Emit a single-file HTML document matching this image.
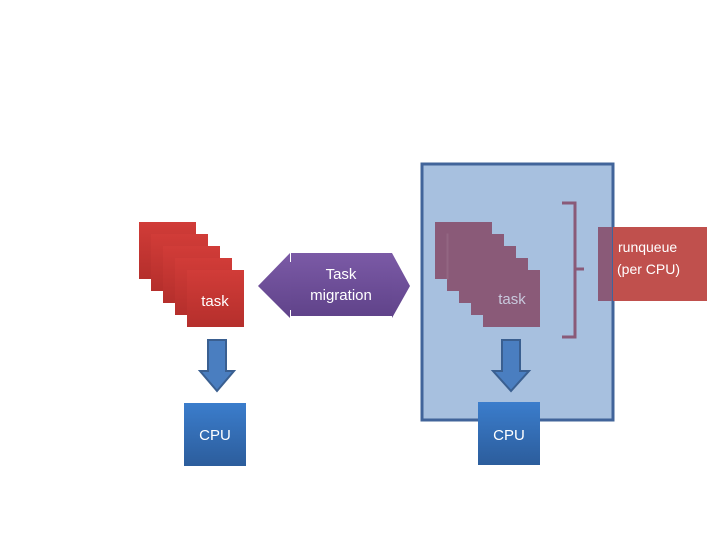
<!DOCTYPE html>
<html><head><meta charset="utf-8"><style>html,body{margin:0;padding:0;background:#fff}svg{display:block}</style></head>
<body>
<svg width="720" height="540" viewBox="0 0 720 540" xmlns="http://www.w3.org/2000/svg" font-family="Liberation Sans, sans-serif">
<defs>
<linearGradient id="r" x1="0" y1="0" x2="0" y2="1"><stop offset="0" stop-color="#d13c38"/><stop offset="1" stop-color="#b52f2c"/></linearGradient>
<linearGradient id="p" x1="0" y1="0" x2="0" y2="1"><stop offset="0" stop-color="#7b5aa6"/><stop offset="1" stop-color="#60438a"/></linearGradient>
<linearGradient id="b" x1="0" y1="0" x2="0" y2="1"><stop offset="0" stop-color="#3b7dcc"/><stop offset="1" stop-color="#2c5d9c"/></linearGradient>
</defs>
<!-- left stack -->
<g fill="url(#r)">
<rect x="139" y="222" width="57" height="57"/>
<rect x="151" y="234" width="57" height="57"/>
<rect x="163" y="246" width="57" height="57"/>
<rect x="175" y="258" width="57" height="57"/>
<rect x="187" y="270" width="57" height="57"/>
</g>
<text x="215" y="306" fill="#fff" font-size="15" text-anchor="middle">task</text>
<!-- double arrow -->
<polygon points="258,286 290,253 290,262 392,262 392,253 410,286 392,318 392,310 290,310 290,318" fill="url(#p)"/>
<rect x="291" y="253" width="101" height="63" fill="url(#p)"/>
<text x="341" y="279" fill="#fff" font-size="15" text-anchor="middle">Task</text>
<text x="341" y="300" fill="#fff" font-size="15" text-anchor="middle">migration</text>
<!-- down arrow left -->
<polygon points="208,340 226,340 226,371 234,371 217,391 200,371 208,371" fill="#4a7ec0" stroke="#3a5f90" stroke-width="2"/>
<rect x="184" y="403" width="62" height="63" fill="url(#b)"/>
<text x="215" y="440" fill="#fff" font-size="15" text-anchor="middle">CPU</text>
<!-- blue box -->
<rect x="422" y="164" width="191" height="256" fill="#a7c0df" stroke="#41649a" stroke-width="3"/>
<g fill="#8a5a78">
<rect x="435" y="222" width="57" height="57"/>
<rect x="447" y="234" width="57" height="57"/>
<rect x="459" y="246" width="57" height="57"/>
<rect x="471" y="258" width="57" height="57"/>
<rect x="483" y="270" width="57" height="57"/>
</g>
<g fill="none" stroke="#fff" stroke-opacity="0.08"><rect x="447" y="234" width="1" height="45"/></g>
<text x="512" y="304" fill="#c8c8dc" font-size="15" text-anchor="middle">task</text>
<path d="M562,203 H575 V337 H562 M575,269 H584" fill="none" stroke="#8a5a78" stroke-width="3"/>
<polygon points="493,340 511,340 511,371 529,371 511,390 493,371 493,371" fill="none"/>
<polygon points="502,340 520,340 520,371 529,371 511,391 493,371 502,371" fill="#4a7ec0" stroke="#3a5f90" stroke-width="2"/>
<rect x="478" y="402" width="62" height="63" fill="url(#b)"/>
<text x="509" y="440" fill="#fff" font-size="15" text-anchor="middle">CPU</text>
<!-- runqueue -->
<rect x="613" y="227" width="94" height="74" fill="#c0504d"/>
<rect x="598" y="227" width="14" height="74" fill="#8a5a78"/>
<text x="618" y="252" fill="#fff" font-size="14">runqueue</text>
<text x="617" y="274" fill="#fff" font-size="14">(per CPU)</text>
</svg>
</body></html>
